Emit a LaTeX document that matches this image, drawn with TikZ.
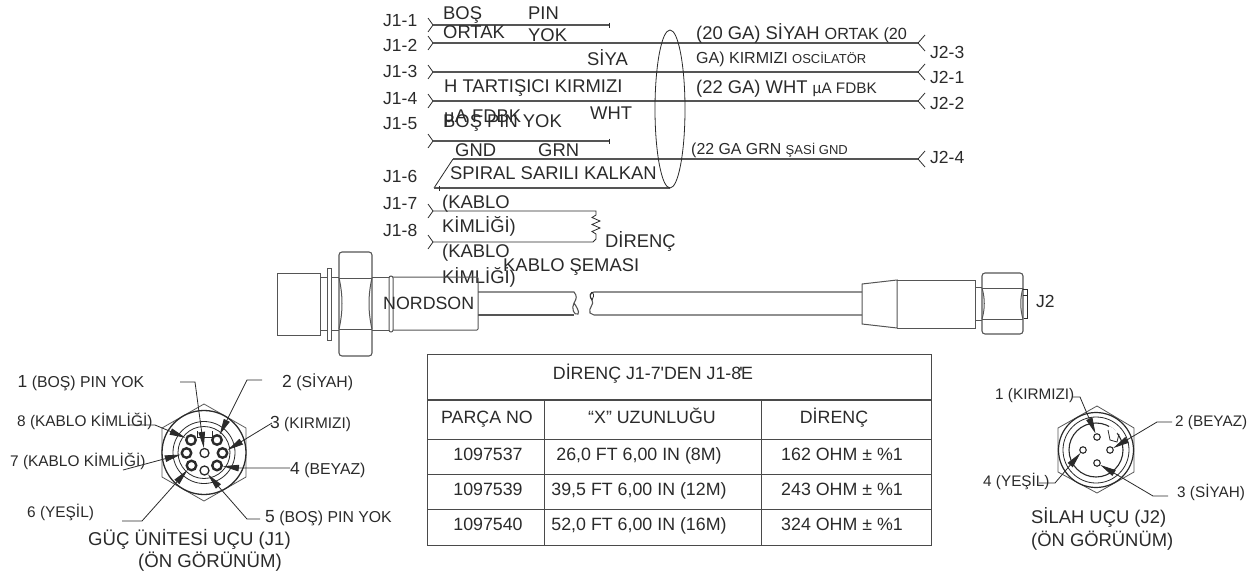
\documentclass[tikz,border=0pt]{standalone}
\usepackage{fontspec}
\setmainfont{Liberation Sans}
\newfontfamily\plainlib{Liberation Sans}
\usetikzlibrary{arrows.meta,calc}
\newcommand\fs[1]{\fontsize{#1}{#1}\selectfont}
\definecolor{ink}{HTML}{2A2A2A}
\definecolor{wiregray}{HTML}{555555}
\tikzset{
  lab/.style={anchor=base west,inner sep=0pt,text=ink,font=\fs{18.4}},
  smalllab/.style={lab,font=\fs{15.3}},
  bigcap/.style={lab,font=\fs{18.4}},
  cell/.style={anchor=base,inner sep=0pt,text=ink,font=\fs{17.8}},
  wirel/.style={draw=wiregray,line width=1.1pt},
  thin line/.style={draw=ink,line width=.8pt},
  part/.style={draw=ink!80,line width=1pt},
  leader/.style={draw=ink,line width=.8pt,-{Triangle[length=16pt,width=6.5pt]}},
  pinA/.style={circle,draw=ink,line width=2.4pt,minimum size=9.5pt,inner sep=0pt},
  pinB/.style={circle,draw=ink,line width=1.3pt,minimum size=9pt,inner sep=0pt},
  pinC/.style={circle,draw=ink,line width=1.1pt,minimum size=6.5pt,inner sep=0pt},
  rule/.style={draw=ink!85,line width=1pt},
}
\newcommand\chevL[1]{\draw[thin line] ($(#1)+(-5,-7)$) -- (#1) -- ($(#1)+(-5,7)$);}
\newcommand\chevR[1]{\draw[thin line] ($(#1)+(7,-8)$) -- (#1) -- ($(#1)+(7,8)$);}
\begin{document}
\begin{tikzpicture}[x=1pt,y=-1pt]
\useasboundingbox (0,0) rectangle (1254,573);
% ---------- wiring coordinates
\coordinate (a1) at (433,25);  \coordinate (e1) at (609,25);
\coordinate (a2) at (433,43);  \coordinate (b3) at (918,43);
\coordinate (a3) at (433,72);  \coordinate (b1) at (918,72);
\coordinate (a4) at (433,101); \coordinate (b2) at (918,101);
\coordinate (a5) at (433,141); \coordinate (e5) at (609,141);
\coordinate (s1) at (453,159); \coordinate (b4) at (918,159);
\coordinate (s2) at (434,188); \coordinate (s3) at (670,188);
\coordinate (a7) at (433,211); \coordinate (r1) at (596,211);
\coordinate (a8) at (433,242); \coordinate (r2) at (593,242);
\foreach \c in {a1,a2,a3,a4,a5,a7,a8} {\chevL{\c}}
\foreach \c in {b1,b2,b3,b4} {\chevR{\c}}
\draw[wirel] (a1) -- (e1);
\draw[thin line] ($(e1)+(0,-2.5)$) -- ($(e1)+(0,2.5)$);
\draw[wirel,line width=1.3pt] (a2) -- (b3);
\draw[wirel] (a3) -- (b1);
\draw[wirel] (a4) -- (b2);
\draw[wirel] (a5) -- (e5);
\draw[thin line] ($(e5)+(0,-2.5)$) -- ($(e5)+(0,2.5)$);
\draw[wirel] (s1) -- (b4);
\draw[thin line] (s1) -- (s2);
\draw[wirel] (s2) -- (s3);
\draw[thin line] ($(s2)+(5,-2)$) -- ($(s2)+(5,3)$);
\draw[thin line] (670,109) ellipse [x radius=15,y radius=79];
\draw[thin line] (a7) -- (r1) -- (596,215) -- (592,217.5) -- (600,221) -- (592,224.5) -- (600,228) -- (592,231.5) -- (596,234) -- (596,239) -- (r2) -- (a8);
% ---------- wiring labels
\node[lab,font=\fs{17.5}] (j11) at (383,26) {J1-1};
\node[lab,font=\fs{17.5}] (j12) at (383,51) {J1-2};
\node[lab,font=\fs{17.5}] (j13) at (383,77) {J1-3};
\node[lab,font=\fs{17.5}] (j14) at (383,104) {J1-4};
\node[lab,font=\fs{17.5}] (j15) at (383,129) {J1-5};
\node[lab,font=\fs{17.5}] (j16) at (383,182) {J1-6};
\node[lab,font=\fs{17.5}] (j17) at (383,209) {J1-7};
\node[lab,font=\fs{17.5}] (j18) at (383,236) {J1-8};
\node[lab] (w1) at (443,19) {BOŞ};
\node[lab] (w2) at (528,19) {PIN};
\node[lab] (w3) at (443,38) {ORTAK};
\node[lab] (w4) at (528,41) {YOK};
\node[lab] (w5) at (587,65) {SİYA};
\node[lab] (w6) at (444,92) {H TARTIŞICI KIRMIZI};
\node[lab] (w7) at (444,122) {µA FDBK};
\node[lab] (w8) at (443,127) {BOŞ PIN YOK};
\node[lab] (w9) at (590,119) {WHT};
\node[lab] (w10) at (455,156) {GND};
\node[lab] (w11) at (538,156) {GRN};
\node[lab] (w12) at (450,179) {SPIRAL SARILI KALKAN};
\node[lab] (w13) at (442,208) {(KABLO};
\node[lab] (w14) at (442,232) {KİMLİĞİ)};
\node[lab] (w15) at (442,257) {(KABLO};
\node[lab] (w16) at (442,283) {KİMLİĞİ)};
\node[lab] (w17) at (605,247) {DİRENÇ};
\node[lab] (w18) at (503,271) {KABLO ŞEMASI};
\node[lab,font=\fs{18.4}] (r3l) at (696,39) {(20 GA) SİYAH {\fs{16.2}ORTAK (20}};
\node[lab,font=\fs{16}] (r1l) at (696,63) {GA) KIRMIZI {\fs{13}OSCİLATÖR}};
\node[lab,font=\fs{18.4}] (r2l) at (696,93) {(22 GA) WHT {\fs{15.3}µA FDBK}};
\node[lab,font=\fs{15.9}] (r4l) at (691,154) {(22 GA GRN {\fs{13}ŞASİ GND}};
\node[lab,font=\fs{17.5}] (j23) at (930,58) {J2-3};
\node[lab,font=\fs{17.5}] (j21) at (930,83) {J2-1};
\node[lab,font=\fs{17.5}] (j22) at (930,109) {J2-2};
\node[lab,font=\fs{17.5}] (j24) at (930,163) {J2-4};
% ---------- cable
\draw[part] (277,273) rectangle (320,335);
\draw[part] (320,277) -- (339,277) (320,330) -- (339,330);
\draw[part,fill=white] (327,268) rectangle (331,340);
\draw[part,line width=1.1pt,rounded corners=3pt] (339,252) rectangle (372,356);
\draw[part] (339,278) -- (372,278) (339,329) -- (372,329);
\draw[part] (339,278) .. controls (343,295) and (343,312) .. (339,329);
\draw[part] (372,278) .. controls (368,295) and (368,312) .. (372,329);
\draw[part] (372,277) -- (389,277) (372,330) -- (389,330);
\draw[part,rounded corners=2pt] (389,276) rectangle (393,332);
\draw[part,rounded corners=1pt] (393,277) -- (478,277) -- (478,330) -- (393,330);
\draw[wirel] (478,292) -- (574,292) .. controls (577,296) and (577,298) .. (574,303) .. controls (571,308) and (574,316) .. (578,314) .. controls (580,312) and (576,306) .. (574,303);
\draw[wirel] (478,315) -- (574,315);
\draw[wirel] (862,292) -- (594,292) .. controls (590,292) and (589,297) .. (592,300) .. controls (595,304) and (588,308) .. (590,313) -- (594,315) -- (862,315);
\draw[thin line] (592,292) .. controls (595,295) and (593,298) .. (592,300) .. controls (589,296) and (590,293) .. (592,292);
\draw[part] (862,284) -- (897,280) -- (897,328) -- (862,324) -- cycle;
\draw[part] (897,280) -- (975,280) -- (975,328) -- (897,328);
\draw[part] (975,287) -- (982,287) (975,320) -- (982,320);
\draw[part,line width=1.1pt,rounded corners=3pt] (982,273) rectangle (1023,334);
\draw[part] (982,288) -- (1023,288) (982,319) -- (1023,319);
\draw[part] (982,288) .. controls (985,298) and (985,309) .. (982,319);
\draw[part] (1023,288) .. controls (1020,298) and (1020,309) .. (1023,319);
\draw[thin line] (1023,289) -- (1027,289) -- (1027,318) -- (1024,318) (1023,295) -- (1027,295);
\node[lab,font=\fs{17.5}] (j2) at (1036,307) {J2};
\node[lab,font=\fs{17.8}] (nord) at (383,309) {NORDSON};
% ---------- table
\draw[rule] (427,354) rectangle (931,545);
\draw[rule,line width=1.6pt] (427,400) -- (931,400);
\draw[rule] (427,439) -- (931,439) (427,474) -- (931,474) (427,509) -- (931,509);
\draw[rule] (544,400) -- (544,545) (761,400) -- (761,545);
\node[cell] (th0) at (653,379) {\plainlib DİRENÇ J1-7'DEN J1-8\kern-2pt'\kern-1.5ptE};
\node[cell] (th1) at (487,423) {PARÇA NO};
\node[cell] (th2) at (652,423) {“X” UZUNLUĞU};
\node[cell] (th3) at (834,423) {DİRENÇ};
\node[cell] (c11) at (488,460) {1097537};
\node[cell] (c12) at (639,460) {26,0 FT 6,00 IN (8M)};
\node[cell] (c13) at (842,460) {162 OHM ± \%1};
\node[cell] (c21) at (488,495) {1097539};
\node[cell] (c22) at (639,495) {39,5 FT 6,00 IN (12M)};
\node[cell] (c23) at (842,495) {243 OHM ± \%1};
\node[cell] (c31) at (488,530) {1097540};
\node[cell] (c32) at (639,530) {52,0 FT 6,00 IN (16M)};
\node[cell] (c33) at (842,530) {324 OHM ± \%1};
% ---------- J1 connector
\draw[thin line,draw=ink!80] (204,404) -- (246,428) -- (246,477) -- (204,501) -- (162,477) -- (162,428) -- cycle;
\draw[draw=ink,line width=1.3pt,fill=white] (204,452.5) circle [radius=42];
\draw[thin line] (204,452.5) circle [radius=31];
\draw[thin line] (204,452.5) circle [radius=26];
\draw[thin line] (197,431) -- (197,437) -- (212,437) -- (212,431);
\node[pinB] (p0) at (204.5,453) {};
\node[pinA] (p1) at (217,440) {};
\node[pinA] (p2) at (222.5,453) {};
\node[pinA] (p3) at (217,465.5) {};
\node[pinB] (p4) at (204.5,470.5) {};
\node[pinA] (p5) at (191.5,465.5) {};
\node[pinA] (p6) at (186.5,453) {};
\node[pinA] (p7) at (191,440) {};
\coordinate (l1a) at (180,382); \coordinate (l1b) at (195,382);
\coordinate (l2a) at (262,380); \coordinate (l2b) at (247,380);
\coordinate (l3a) at (272,423);
\coordinate (l4a) at (290,468); \coordinate (l4b) at (238,468);
\coordinate (l5a) at (260,519); \coordinate (l5b) at (247,519);
\coordinate (l6a) at (122,521); \coordinate (l6b) at (142,521);
\coordinate (l7a) at (123,470);
\coordinate (l8a) at (128,425); \coordinate (l8b) at (155,425);
\draw[leader] (l1a) -- (l1b) -- (p0);
\draw[leader] (l2a) -- (l2b) -- (p1);
\draw[leader] (l3a) -- (p2);
\draw[leader] (l4a) -- (l4b) -- (p3);
\draw[leader] (l5a) -- (l5b) -- (p4);
\draw[leader] (l6a) -- (l6b) -- (p5);
\draw[leader] (l7a) -- (p6);
\draw[leader] (l8a) -- (l8b) -- (p7);
\node[lab,font=\fs{15.8}] (n1) at (17.5,387) {{\fs{17.5}1} (BOŞ) PIN YOK};
\node[lab,font=\fs{15.8}] (n2) at (282,387) {{\fs{17.5}2} (SİYAH)};
\node[lab,font=\fs{15.4}] (n8) at (17,426) {8 (KABLO KİMLİĞİ)};
\node[lab,font=\fs{15.4}] (n3) at (270,428) {{\fs{17.5}3} (KIRMIZI)};
\node[lab,font=\fs{15.4}] (n7) at (10,466) {7 (KABLO KİMLİĞİ)};
\node[lab,font=\fs{15.8}] (n4) at (290,474) {{\fs{17.5}4} (BEYAZ)};
\node[lab,font=\fs{15.4}] (n6) at (27,517) {6 (YEŞİL)};
\node[lab,font=\fs{15.8}] (n5) at (265,522) {{\fs{17.5}5} (BOŞ) PIN YOK};
\node[lab,font=\fs{18.6}] (t1) at (88,545) {GÜÇ ÜNİTESİ UÇU (J1)};
\node[lab,font=\fs{18.6}] (t2) at (138,567) {(ÖN GÖRÜNÜM)};
% ---------- J2 connector
\draw[thin line,draw=ink!80] (1097,406) -- (1134,428) -- (1134,472) -- (1097,493) -- (1058,472) -- (1058,428) -- cycle;
\draw[draw=ink,line width=1.2pt,fill=white] (1096,450) circle [radius=37.5];
\draw[thin line] (1096,450) circle [radius=33];
\draw[draw=ink,line width=1.1pt] (1096,450) circle [radius=27];
\draw[white,line width=2.5pt] (1109,427) -- (1117,433);
\draw[thin line] (1108,430) -- (1110,440) -- (1117,442) -- (1119,434);
\node[pinC] (q1) at (1097,437) {};
\node[pinC] (q2) at (1110,450) {};
\node[pinC] (q3) at (1097,463) {};
\node[pinC] (q4) at (1083,450) {};
\coordinate (m1a) at (1073,397); \coordinate (m1b) at (1080,397);
\coordinate (m2a) at (1172,422); \coordinate (m2b) at (1157,422);
\coordinate (m3a) at (1168,496); \coordinate (m3b) at (1153,496);
\coordinate (m4a) at (1039,483); \coordinate (m4b) at (1055,483);
\draw[leader] (m1a) -- (m1b) -- (q1);
\draw[leader] (m2a) -- (m2b) -- (q2);
\draw[leader] (m3a) -- (m3b) -- (q3);
\draw[leader] (m4a) -- (m4b) -- (q4);
\node[smalllab] (k1) at (995,399) {1 (KIRMIZI)};
\node[smalllab] (k2) at (1175,426) {2 (BEYAZ)};
\node[smalllab] (k4) at (983,486) {4 (YEŞİL)};
\node[smalllab] (k3) at (1177,497) {3 (SİYAH)};
\node[bigcap] (u1) at (1031,523) {SİLAH UÇU (J2)};
\node[bigcap] (u2) at (1031,546) {(ÖN GÖRÜNÜM)};
\end{tikzpicture}
\end{document}
